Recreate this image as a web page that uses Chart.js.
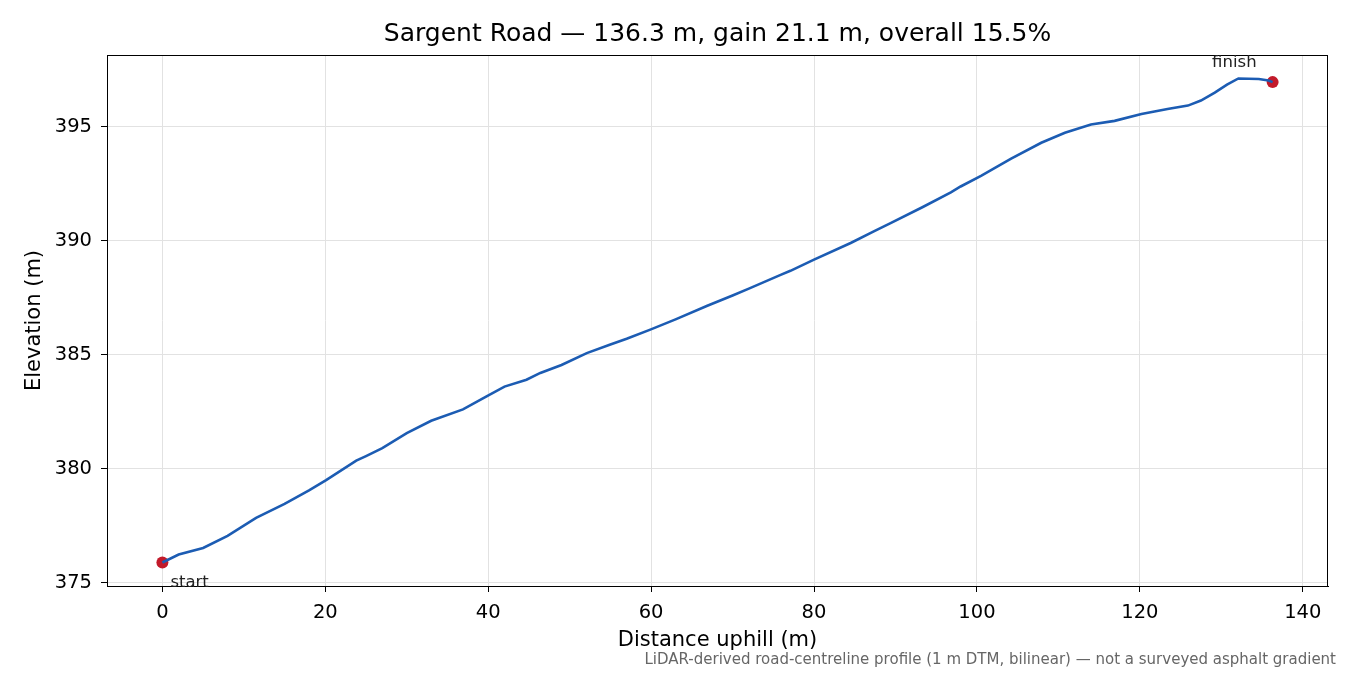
<!DOCTYPE html>
<html>
<head>
<meta charset="utf-8">
<script src="https://cdn.jsdelivr.net/npm/chart.js@4.4.1/dist/chart.umd.min.js"></script>
<style>
  html, body { margin: 0; padding: 0; background: #fff; }
  canvas { display: block; }
</style>
</head>
<body>
<canvas id="profile" width="1350" height="675"></canvas>
<script>
// distance along the road (m) and elevation (m)
const distance = [0, 2, 5, 8, 11.5, 15, 18, 20.1, 23.8, 25, 27, 30, 33, 36.9, 39.8, 42, 44.7, 46.4, 49, 52.1,
  55, 57, 59.9, 63, 66.9, 70, 72, 75.9, 77.1, 80, 84.5, 87.4, 89.4, 93.3, 96.8, 98, 100.5, 102, 104.2, 107.9,
  110.8, 114, 116.9, 120.2, 123.4, 125.9, 127.5, 129.2, 130.7, 132.1, 134.6, 135.8, 136.3];
const elevation = [375.88, 376.23, 376.52, 377.05, 377.84, 378.45, 379.05, 379.5, 380.35, 380.55, 380.9, 381.56, 382.1, 382.6, 383.17, 383.6, 383.9, 384.2, 384.55, 385.07,
  385.45, 385.7, 386.1, 386.55, 387.15, 387.6, 387.9, 388.5, 388.68, 389.17, 389.9, 390.42, 390.77, 391.47, 392.12, 392.38, 392.85, 393.15, 393.6, 394.3,
  394.74, 395.1, 395.26, 395.56, 395.78, 395.93, 396.15, 396.5, 396.85, 397.12, 397.1, 397.03, 396.96];
const xTicks = [0, 20, 40, 60, 80, 100, 120, 140];
const yTicks = [375, 380, 385, 390, 395];

const titleText = 'Sargent Road \u2014 136.3 m, gain 21.1 m, overall 15.5%';
const footText = 'LiDAR-derived road-centreline profile (1 m DTM, bilinear) \u2014 not a surveyed asphalt gradient';

const FONT = '"DejaVu Sans", sans-serif';

let points = distance.map((d, i) => ({ x: d, y: elevation[i] }));
let ends = [points[0], points[points.length - 1]];

// extra drawing: title over the plot area, top/right spines, start/finish labels, footnote
const extras = {
  id: 'extras',
  afterDraw(chart) {
    const ctx = chart.ctx;
    const a = chart.chartArea;
    const xs = chart.scales.x, ys = chart.scales.y;
    ctx.save();
    ctx.strokeStyle = '#000';
    ctx.lineWidth = 1;
    ctx.strokeRect(a.left + 0.5, a.top + 0.5, a.right - a.left - 1, a.bottom - a.top);

    ctx.fillStyle = '#000';
    ctx.font = '25px ' + FONT;
    ctx.textAlign = 'center';
    ctx.textBaseline = 'middle';
    ctx.fillText(titleText, (a.left + a.right) / 2, 34);

    ctx.fillStyle = '#222';
    ctx.font = '16.5px ' + FONT;
    let s = ends[0], f = ends[1];
    ctx.textAlign = 'left';
    ctx.fillText('start', xs.getPixelForValue(s.x) + 8, ys.getPixelForValue(s.y) + 20);
    ctx.textAlign = 'right';
    ctx.fillText('finish', xs.getPixelForValue(f.x) - 16, ys.getPixelForValue(f.y) - 19);

    ctx.fillStyle = '#666';
    ctx.font = '15px ' + FONT;
    ctx.textAlign = 'right';
    ctx.fillText(footText, 1336, 660);
    ctx.restore();
  }
};

new Chart(document.getElementById('profile'), {
  type: 'scatter',
  data: {
    datasets: [{
      data: points,
      showLine: true,
      borderColor: '#1c5cb3',
      borderWidth: 2.6,
      pointRadius: 0,
      tension: 0
    }, {
      data: ends,
      showLine: false,
      pointRadius: 6,
      pointBackgroundColor: '#c21a2a',
      pointBorderWidth: 0
    }]
  },
  options: {
    responsive: false,
    animation: false,
    devicePixelRatio: 1,
    layout: { padding: { left: 0, right: 22, top: 55, bottom: 0 } },
    plugins: {
      legend: { display: false },
      tooltip: { enabled: false },
      title: { display: false }
    },
    scales: {
      x: {
        type: 'linear',
        min: -6.8,
        max: 143.1,
        afterFit(scale) { scale.height = 89; },
        afterBuildTicks(scale) { scale.ticks = xTicks.map(v => ({ value: v })); },
        ticks: { color: '#000', font: { family: FONT, size: 19.5 }, padding: 9 },
        grid: { color: '#e2e2e2', lineWidth: 1, tickColor: '#000', tickLength: 6 },
        border: { color: '#000', width: 1 },
        title: {
          display: true,
          text: 'Distance uphill (m)',
          color: '#000',
          font: { family: FONT, size: 21 },
          padding: { top: 4, bottom: 22 }
        }
      },
      y: {
        type: 'linear',
        min: 374.85,
        max: 398.15,
        afterFit(scale) { scale.width = 107; },
        afterBuildTicks(scale) { scale.ticks = yTicks.map(v => ({ value: v })); },
        ticks: { color: '#000', font: { family: FONT, size: 19.5 }, padding: 9 },
        grid: { color: '#e2e2e2', lineWidth: 1, tickColor: '#000', tickLength: 6 },
        border: { color: '#000', width: 1 },
        title: {
          display: true,
          text: 'Elevation (m)',
          color: '#000',
          font: { family: FONT, size: 21 },
          padding: { top: 21.5, bottom: 4 }
        }
      }
    }
  },
  plugins: [extras]
});
</script>
</body>
</html>
